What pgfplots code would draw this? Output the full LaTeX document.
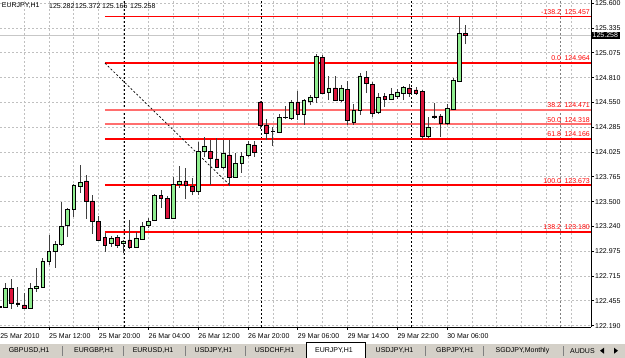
\documentclass[border=0pt]{standalone}
\usepackage{pgfplots}
\pgfplotsset{compat=1.18}
\usepackage{pgfplotstable}
\usepackage{fontspec}
\setmainfont{Liberation Sans}
\definecolor{bull}{RGB}{144,238,144}
\definecolor{bear}{RGB}{220,20,60}
\definecolor{gridc}{RGB}{192,192,192}
\definecolor{tabbg}{RGB}{212,208,200}
\definecolor{fibred}{RGB}{255,0,0}
\definecolor{fiblight}{RGB}{255,110,110}
\pgfplotstableread{
t o h l c
0 122.388 122.409 122.366 122.392
1 122.388 122.641 122.377 122.588
2 122.588 122.683 122.366 122.430
3 122.430 122.599 122.388 122.419
4 122.409 122.536 122.366 122.377
5 122.377 122.641 122.377 122.588
6 122.588 122.800 122.546 122.610
7 122.599 122.905 122.588 122.874
8 122.874 123.148 122.831 122.979
9 122.979 123.085 122.800 123.053
10 123.053 123.497 123.032 123.244
11 123.254 123.434 123.127 123.423
12 123.423 123.687 123.339 123.677
13 123.666 123.888 123.592 123.708
14 123.719 123.782 123.318 123.508
15 123.508 123.571 123.159 123.296
16 123.296 123.349 123.096 123.096
17 123.127 123.170 122.969 123.043
18 123.064 123.138 123.022 123.117
19 123.127 123.148 123.011 123.043
20 123.064 123.096 122.958 123.085
21 123.096 123.307 123.001 123.022
22 123.022 123.180 123.011 123.117
23 123.106 123.286 123.096 123.244
24 123.254 123.328 123.222 123.296
25 123.307 123.582 123.296 123.571
26 123.571 123.624 123.434 123.539
27 123.539 123.561 123.318 123.328
28 123.328 123.761 123.318 123.687
29 123.687 123.878 123.645 123.719
30 123.719 123.856 123.529 123.677
31 123.666 123.751 123.571 123.613
32 123.613 124.131 123.571 124.036
33 124.036 124.184 123.973 124.089
34 124.036 124.152 123.677 123.962
35 123.952 124.173 123.856 123.867
36 123.867 124.152 123.846 124.015
37 123.994 124.152 123.666 123.761
38 123.761 124.015 123.751 123.909
39 123.909 124.026 123.804 123.983
40 123.994 124.142 123.973 124.110
41 124.100 124.142 123.973 124.026
42 124.554 124.564 124.269 124.311
43 124.311 124.374 124.152 124.226
44 124.240 124.290 124.090 124.247
45 124.237 124.427 124.226 124.395
46 124.390 124.512 124.374 124.395
47 124.385 124.575 124.364 124.554
48 124.554 124.670 124.364 124.427
49 124.427 124.586 124.311 124.575
50 124.564 124.628 124.522 124.607
51 124.607 125.061 124.543 125.040
52 125.029 125.050 124.638 124.649
53 124.660 124.829 124.575 124.702
54 124.702 124.829 124.564 124.575
55 124.575 124.734 124.554 124.702
56 124.691 124.776 124.311 124.364
57 124.343 124.533 124.311 124.469
58 124.469 124.860 124.417 124.829
59 124.818 124.881 124.649 124.755
60 124.744 124.765 124.395 124.438
61 124.448 124.649 124.427 124.607
62 124.617 124.649 124.501 124.586
63 124.586 124.702 124.575 124.638
64 124.617 124.691 124.586 124.660
65 124.649 124.723 124.575 124.712
66 124.702 124.744 124.607 124.649
67 124.681 124.712 124.628 124.649
68 124.670 124.681 124.163 124.195
69 124.195 124.395 124.173 124.290
70 124.406 124.543 124.374 124.395
71 124.406 124.427 124.184 124.332
72 124.332 124.533 124.311 124.490
73 124.480 124.807 124.469 124.786
74 124.776 125.455 124.765 125.282
75 125.282 125.372 125.165 125.258
}\candles
\newcommand{\sm}{\fontsize{7}{8}\selectfont}
\begin{document}
\begin{tikzpicture}[x=1pt,y=1pt]
\useasboundingbox (0,0) rectangle (625,358);
\fill[white] (0,0) rectangle (625,358);
\pgfplotsset{base/.style={scale only axis, width=591pt, height=327pt,
  at={(0pt,31pt)}, anchor=south west,
  xmin=0.122, xmax=95.14, ymin=122.176, ymax=125.632}}
\begin{axis}[base,
  axis x line*=bottom, axis y line*=right,
  axis line style={-, black, line width=0.9pt},
  xtick={0,8,...,72},
  xticklabels={, 25 Mar 12:00, 25 Mar 20:00, 26 Mar 04:00, 26 Mar 12:00, 26 Mar 20:00, 29 Mar 06:00, 29 Mar 14:00, 29 Mar 22:00, 30 Mar 06:00},
  minor xtick={4,12,...,92,80,88},
  ytick={122.19,122.455,122.715,122.975,123.24,123.5,123.765,124.025,124.285,124.55,124.81,125.075,125.335,125.6},
  yticklabels={122.190,122.455,122.715,122.975,123.240,123.500,123.765,124.025,124.285,124.550,124.810,125.075,125.335,125.600},
  grid=both,
  major grid style={gridc, dash pattern=on 2pt off 2pt, line width=0.8pt},
  minor grid style={gridc, dash pattern=on 2pt off 2pt, line width=0.8pt},
  minor tick length=0pt, major tick length=3pt, tick align=outside,
  tick style={black, line width=0.8pt},
  tick label style={font=\sm},
  xticklabel style={anchor=north west, inner sep=0pt, yshift=-3pt},
  yticklabel style={anchor=west, inner sep=0pt, xshift=1pt},
  unbounded coords=jump,
  clip mode=individual]
% bid line
\addplot[draw=black!22, solid, line width=1pt, forget plot] coordinates {(0.122,125.258) (95.14,125.258)};
% period separators
\addplot[draw=black, line width=0.9pt, dash pattern=on 2pt off 2pt, forget plot] coordinates {(20.1,122.176) (20.1,125.632)};
\addplot[draw=black, line width=0.9pt, dash pattern=on 2pt off 2pt, forget plot] coordinates {(42.1,122.176) (42.1,125.632)};
\addplot[draw=black, line width=0.9pt, dash pattern=on 2pt off 2pt, forget plot] coordinates {(66.2,122.176) (66.2,125.632)};
% chart shift line
\addplot[draw=black!50, line width=0.9pt, dash pattern=on 2pt off 2pt, forget plot] coordinates {(90.15,122.176) (90.15,125.632)};
% fibonacci levels
\addplot[draw=fibred, solid, line width=1.8pt, forget plot] coordinates {
 (17,125.457) (95.14,125.457) (50,nan)
 (17,124.964) (95.14,124.964) (50,nan)
 (17,124.166) (95.14,124.166) (50,nan)
 (17,123.673) (95.14,123.673) (50,nan)
 (17,123.180) (95.14,123.180)};
\addplot[draw=fiblight, solid, line width=1.8pt, forget plot] coordinates {
 (17,124.471) (95.14,124.471) (50,nan)
 (17,124.318) (95.14,124.318)};
% fibonacci trend line
\addplot[draw=black, line width=0.7pt, dash pattern=on 2pt off 2pt, forget plot] coordinates {(17,124.964) (37.1,123.673)};
% wicks
\addplot[draw=none, mark=none, forget plot, error bars/.cd, y dir=plus, y explicit, error mark=none,
  error bar style={draw=black!75, solid, line width=0.9pt}]
  table[x=t, y=l, y error plus expr={\thisrow{h}-\thisrow{l}}] {\candles};
% labels
\foreach \lv/\pc in {125.457/-138.2, 124.964/0.0, 124.471/38.2, 124.318/50.0, 124.166/61.8, 123.673/100.0, 123.180/138.2}{
  \edef\tmp{\noexpand\node[anchor=south east, inner sep=0pt, text=fibred, font=\noexpand\sm, yshift=2pt] at (axis cs:94.98,\lv) {\pc\noexpand\hspace{3.5pt}\lv};}
  \tmp
}
\node[anchor=west, fill=black, text=white, font=\sm, inner xsep=1.5pt, inner ysep=0pt, minimum height=7pt] at (axis cs:95.14,125.258) {125.258};
\node[anchor=north west, inner sep=0pt, font=\sm, yshift=-6pt] at (axis cs:0.14,122.176) {25 Mar 2010};
\end{axis}
\begin{axis}[base, hide axis, ybar stacked, bar width=0.6]
\addplot[draw=none, fill=none] table[x=t, y expr={min(\thisrow{o},\thisrow{c})}] {\candles};
\addplot[draw=black, fill=bull, line width=0.8pt] table[x=t, y expr={max(\thisrow{c}-\thisrow{o},0)}] {\candles};
\addplot[draw=black, fill=bear, line width=0.8pt] table[x=t, y expr={max(\thisrow{o}-\thisrow{c},0)}] {\candles};
\end{axis}
% header
\node[anchor=west, inner sep=0pt, font=\sm] at (1.7,352) {EURJPY,H1};
\node[anchor=west, inner sep=0pt, font=\sm] at (49,352) {125.282};
\node[anchor=west, inner sep=0pt, font=\sm] at (75,352) {125.372};
\node[anchor=west, inner sep=0pt, font=\sm] at (102,352) {125.165};
\node[anchor=west, inner sep=0pt, font=\sm] at (130,352) {125.258};
% tab bar
\fill[tabbg] (0,0) rectangle (625,14.5);
\draw[white, line width=0.8pt] (0,14.5) -- (625,14.5);
\foreach \xs in {62,123,185,245,425,483,563}{
  \draw[black!50, line width=0.8pt] (\xs,2) -- (\xs,12);
}
\fill[white] (306.5,0) rectangle (365,15.5);
\draw[black, line width=0.8pt] (306.5,0) -- (306.5,15.5) -- (365,15.5) -- (365,0);
\node[font=\sm, inner sep=0pt] at (29,7.3) {GBPUSD,H1};
\node[font=\sm, inner sep=0pt] at (94,7.3) {EURGBP,H1};
\node[font=\sm, inner sep=0pt] at (153,7.3) {EURUSD,H1};
\node[font=\sm, inner sep=0pt] at (213.5,7.3) {USDJPY,H1};
\node[font=\sm, inner sep=0pt] at (274.5,7.3) {USDCHF,H1};
\node[font=\sm, inner sep=0pt] at (334,7.3) {EURJPY,H1};
\node[font=\sm, inner sep=0pt] at (394.5,7.3) {USDJPY,H1};
\node[font=\sm, inner sep=0pt] at (455,7.3) {GBPJPY,H1};
\node[font=\sm, inner sep=0pt] at (522.5,7.3) {SGDJPY,Monthly};
\node[font=\sm, inner sep=0pt, anchor=west] at (570,7.3) {AUDUS};
\fill[tabbg] (597,1) rectangle (625,13.5);
\fill[black] (600,7.3) -- (604,10.3) -- (604,4.3) -- cycle;
\fill[black] (614,10.3) -- (618,7.3) -- (614,4.3) -- cycle;
\end{tikzpicture}
\end{document}
